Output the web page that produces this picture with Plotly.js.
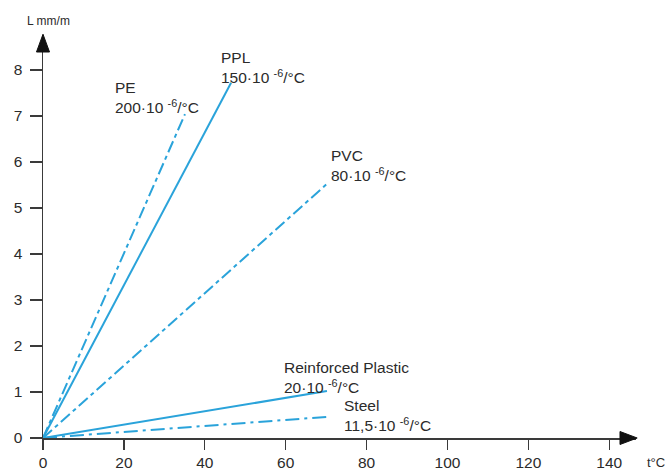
<!DOCTYPE html>
<html>
<head>
<meta charset="utf-8">
<script src="https://cdn.plot.ly/plotly-3.0.1.min.js"></script>
<style>html,body{margin:0;padding:0;background:#fff;}#chart{width:669px;height:471px;}</style>
</head>
<body>
<div id="chart"></div>
<script>
// Data
var materials = ['PE', 'PPL', 'PVC', 'Reinforced Plastic', 'Steel'];
var coefficients = ['200', '150', '80', '20', '11,5'];
var endTemp = [35.1, 46.5, 70.4, 70.2, 70.2];
var endElong = [7.04, 7.72, 5.54, 1.02, 0.46];
var lineDash = ['12px,4px,4px,4px', 'solid', '12px,4px,4px,4px', 'solid', '14px,5px,3px,5px'];
var xTicks = [0, 20, 40, 60, 80, 100, 120, 140];
var yTicks = [0, 1, 2, 3, 4, 5, 6, 7, 8];
// label anchor positions (data coords)
var labelX = [17.3, 43.4, 70.8, 59.0, 74.0];
var labelY = [7.85, 8.5, 6.37, 1.76, 0.93];

var lineColor = '#2aa3da';
var textColor = '#2b2b2b';
var fontFam = 'Liberation Sans, Arial, sans-serif';

var traces = materials.map(function (m, i) {
  return {
    type: 'scatter', mode: 'lines', name: m,
    x: [0, endTemp[i]], y: [0, endElong[i]],
    line: {color: lineColor, width: 2, dash: lineDash[i]},
    hoverinfo: 'skip'
  };
});

var annotations = materials.map(function (m, i) {
  return {
    xref: 'x', yref: 'y', x: labelX[i], y: labelY[i],
    xanchor: 'left', yanchor: 'top', align: 'left', showarrow: false,
    text: m + '<br>' + coefficients[i] + '·10 <sup>-6</sup>/°C',
    font: {family: fontFam, size: 15.5, color: textColor}
  };
});
annotations.push({
  xref: 'paper', yref: 'paper', x: 0.0101, y: 1.035, xanchor: 'center', yanchor: 'middle',
  showarrow: false, text: 'L mm/m', font: {family: fontFam, size: 12, color: textColor}
});
annotations.push({
  xref: 'paper', yref: 'paper', x: 1.034, y: -0.0596, xanchor: 'center', yanchor: 'middle',
  showarrow: false, text: 't°C', font: {family: fontFam, size: 13, color: textColor}
});

var axisColor = '#3a3a3a';
var layout = {
  width: 669, height: 471,
  margin: {l: 43, r: 33, t: 35, b: 33, pad: 0},
  paper_bgcolor: '#ffffff', plot_bgcolor: '#ffffff',
  showlegend: false,
  font: {family: fontFam, size: 15.5, color: textColor},
  xaxis: {
    range: [0, 146.6], showgrid: false, zeroline: false,
    showline: true, linecolor: axisColor, linewidth: 1.5,
    tickmode: 'array', tickvals: xTicks, ticktext: xTicks.map(String),
    ticks: 'outside', ticklen: 10, tickwidth: 1.2, tickcolor: axisColor,
    tickfont: {family: fontFam, size: 15.5, color: textColor}
  },
  yaxis: {
    range: [0, 8.76], showgrid: false, zeroline: false,
    showline: true, linecolor: axisColor, linewidth: 1.5,
    tickmode: 'array', tickvals: yTicks, ticktext: yTicks.map(String),
    ticks: 'outside', ticklen: 12, tickwidth: 1.2, tickcolor: axisColor,
    ticklabelstandoff: 4,
    tickfont: {family: fontFam, size: 15.5, color: textColor}
  },
  shapes: [
    {type: 'path', xref: 'paper', yref: 'paper',
     path: 'M 0.973,-0.0161 L 1.002,0 L 0.973,0.0161 Z',
     fillcolor: '#111', line: {color: '#111', width: 1}},
    {type: 'path', xref: 'paper', yref: 'paper',
     path: 'M -0.011,0.9578 L 0,1.002 L 0.011,0.9578 Z',
     fillcolor: '#111', line: {color: '#111', width: 1}}
  ],
  annotations: annotations
};

Plotly.newPlot('chart', traces, layout, {displayModeBar: false, staticPlot: true});
</script>
</body>
</html>
